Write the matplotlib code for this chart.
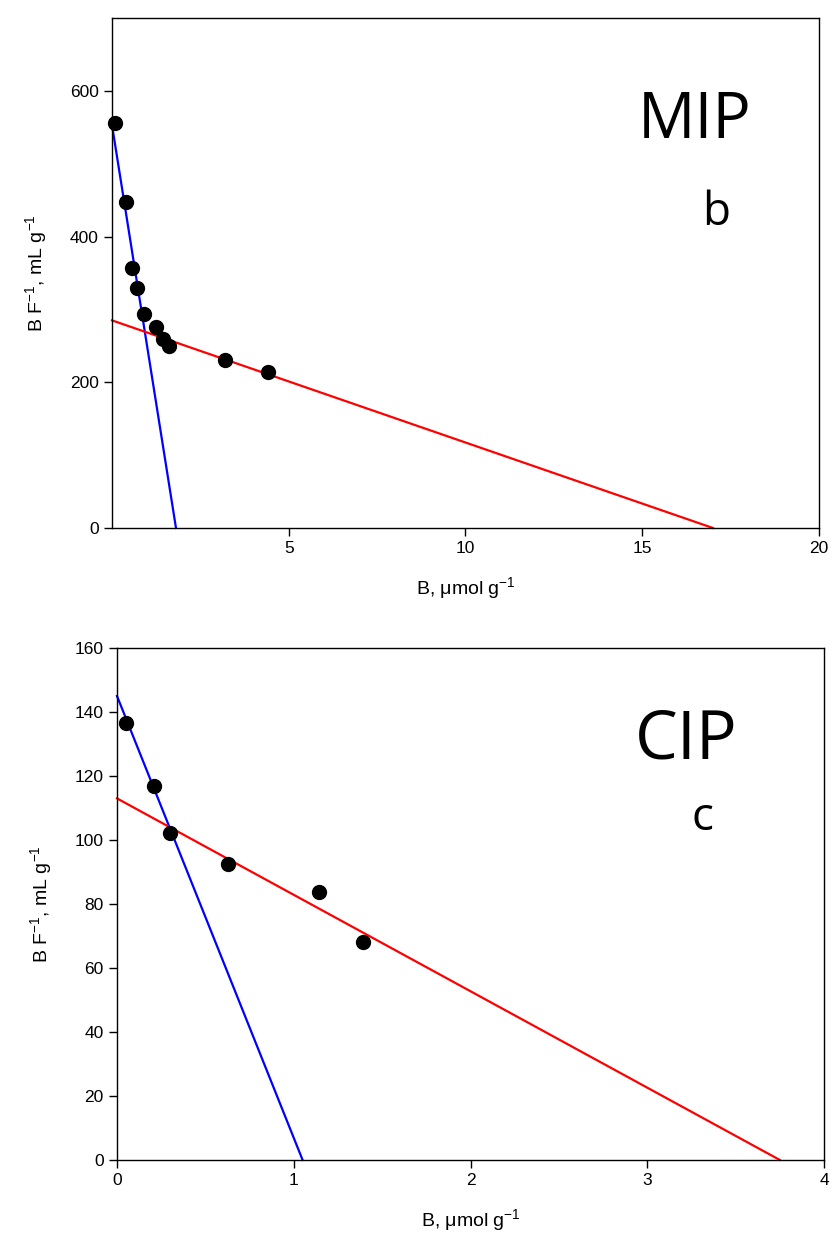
import numpy as np
import matplotlib
matplotlib.use('Agg')
import matplotlib.pyplot as plt
import matplotlib as mpl

mpl.rcParams['font.family'] = ['Liberation Sans', 'DejaVu Sans']
mpl.rcParams['mathtext.fontset'] = 'custom'
mpl.rcParams['mathtext.rm'] = 'Liberation Sans'

# MIP (panel b) Scatchard data
mip_b = [0.08, 0.39, 0.56, 0.70, 0.90, 1.24, 1.43, 1.60, 3.19, 4.41]
mip_bf = [556, 447, 357, 329, 294, 276, 259, 250, 231, 214]
mip_fit_high_x = [0.0, 1.81]
mip_fit_high_y = [553, 0]
mip_fit_low_x = [0.0, 17.0]
mip_fit_low_y = [285, 0]

# CIP (panel c) Scatchard data
cip_b = [0.05, 0.21, 0.30, 0.63, 1.14, 1.39]
cip_bf = [136.6, 116.9, 102.2, 92.5, 83.7, 68.1]
cip_fit_high_x = [0.0, 1.05]
cip_fit_high_y = [145, 0]
cip_fit_low_x = [0.0, 3.75]
cip_fit_low_y = [113, 0]

ylabel = r'B F$^{\mathregular{-1}}$, mL g$^{\mathregular{-1}}$'
xlabel = 'B, \u03bcmol g$^{\\mathregular{-1}}$'


def style_axes(ax):
    ax.tick_params(axis='both', which='both', direction='out',
                   top=False, right=False, length=6, width=1,
                   labelsize=12.5)
    for s in ax.spines.values():
        s.set_linewidth(1.0)
    ax.set_ylabel(ylabel, fontsize=14, labelpad=14)
    ax.set_xlabel(xlabel, fontsize=14, labelpad=14)


def panel(ax, bx, by, hx, hy, lx, ly):
    ax.plot(hx, hy, color='#0000ff', lw=1.6, zorder=2, clip_on=False)
    ax.plot(lx, ly, color='#ff0000', lw=1.6, zorder=2, clip_on=False)
    ax.plot(bx, by, 'o', color='black', ms=10, zorder=3, clip_on=False)


fig = plt.figure(figsize=(8.34, 12.45), dpi=100)

ax = fig.add_axes([0.1343, 0.5759, 0.8477, 0.4096])
panel(ax, mip_b, mip_bf, mip_fit_high_x, mip_fit_high_y,
      mip_fit_low_x, mip_fit_low_y)
ax.set_xlim(0, 20)
ax.set_ylim(0, 700)
ax.set_xticks([5, 10, 15, 20])
ax.set_yticks([0, 200, 400, 600])
style_axes(ax)
ax.text(0.743, 0.765, 'MIP', transform=ax.transAxes, fontsize=46,
        family='Open Sans', ha='left', va='baseline')
ax.text(0.834, 0.595, 'b', transform=ax.transAxes, fontsize=33,
        family='Open Sans', ha='left', va='baseline')

ax = fig.add_axes([0.1403, 0.0683, 0.8477, 0.4112])
panel(ax, cip_b, cip_bf, cip_fit_high_x, cip_fit_high_y,
      cip_fit_low_x, cip_fit_low_y)
ax.set_xlim(0, 4)
ax.set_ylim(0, 160)
ax.set_xticks([0, 1, 2, 3, 4])
ax.set_yticks(np.arange(0, 161, 20))
style_axes(ax)
ax.text(0.733, 0.785, 'CIP', transform=ax.transAxes, fontsize=49,
        family='Open Sans', ha='left', va='baseline')
ax.text(0.812, 0.645, 'c', transform=ax.transAxes, fontsize=33,
        family='Open Sans', ha='left', va='baseline')

plt.savefig('out.png', dpi=100)
plt.close()
